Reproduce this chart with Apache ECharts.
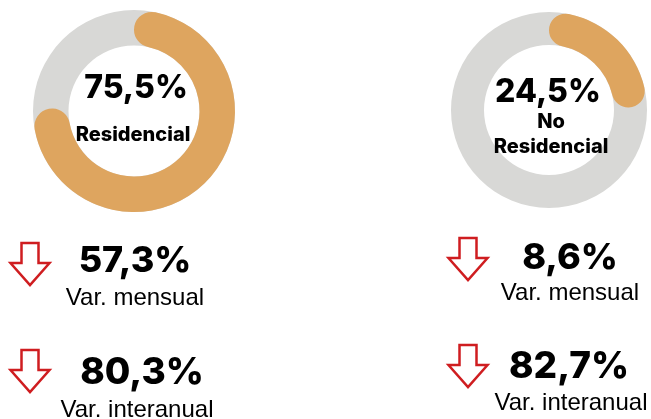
<!DOCTYPE html>
<html>
<head>
<meta charset="utf-8">
<script src="https://cdn.jsdelivr.net/npm/echarts@6/dist/echarts.min.js"></script>
<style>
  html, body { margin: 0; padding: 0; background: #fff; }
  #chart { width: 651px; height: 419px; }
</style>
</head>
<body>
<div id="chart"></div>
<script>
// share of each segment (%)
const shares = [75.5, 24.5]
const segmentLabels = ['Residencial', 'No\nResidencial']
// variations (all downwards)
const monthlyVar = [57.3, 8.6]
const yearlyVar = [80.3, 82.7]
const monthlyLabel = 'Var. mensual'
const yearlyLabel = 'Var. interanual'

const ORANGE = '#dea55f'
const GREY = '#d8d8d6'
const RED = '#cf1d20'

function fmt (v) {
  return v.toFixed(1).replace('.', ',') + '%'
}

// per-panel layout
const donuts = [
  { center: [134, 111], radius: [65.5, 101] },
  { center: [549, 110], radius: [65, 98] }
]
const panels = [
  { labelY: [88, 135], monthY: [261, 298], yearY: [373, 410], textX: [136, 133, 135, 142, 137], arrowX: 30, arrowY: [243, 350] },
  { labelY: [92, 134.5], monthY: [258, 293], yearY: [367, 403], textX: [548, 551, 570, 569, 571], arrowX: 468, arrowY: [238, 345] }
]

const series = []
shares.forEach((v, i) => {
  const d = donuts[i]
  series.push({
    type: 'pie',
    silent: true,
    z: 1,
    center: d.center,
    radius: d.radius,
    label: { show: false },
    labelLine: { show: false },
    data: [{ value: 100, itemStyle: { color: GREY } }]
  })
  series.push({
    type: 'pie',
    silent: true,
    z: 2,
    center: d.center,
    radius: d.radius,
    startAngle: 90,
    clockwise: true,
    label: { show: false },
    labelLine: { show: false },
    data: [
      { value: v, itemStyle: { color: ORANGE, borderRadius: (d.radius[1] - d.radius[0]) / 2 } },
      { value: 100 - v, itemStyle: { color: 'rgba(0,0,0,0)' } }
    ]
  })
})

const boldFont = 'Inter, "Noto Sans", sans-serif'
const plainFont = '"Liberation Sans", Arial, sans-serif'

function arrow (x, y) {
  return {
    type: 'polygon',
    x: x,
    y: y,
    z: 100,
    silent: true,
    shape: {
      points: [[-8.5, 0], [8.5, 0], [8.5, 20], [19.5, 20], [0, 42], [-19.5, 20], [-8.5, 20]]
    },
    style: { fill: '#fff', stroke: RED, lineWidth: 2.5, lineJoin: 'miter' }
  }
}

function text (str, x, y, size, weight, font, lh) {
  return {
    type: 'text',
    x: x,
    y: y,
    z: 100,
    silent: true,
    style: {
      text: str,
      fill: '#000',
      font: weight + ' ' + size + 'px ' + font,
      align: 'center',
      verticalAlign: 'middle',
      lineHeight: lh || size * 1.3
    }
  }
}

const graphics = []
shares.forEach((v, i) => {
  const p = panels[i]
  graphics.push(text(fmt(v), p.textX[0], p.labelY[0], 32, 800, boldFont))
  graphics.push(text(segmentLabels[i], p.textX[1], p.labelY[1], 20, 800, boldFont, 25))
  graphics.push(arrow(p.arrowX, p.arrowY[0]))
  graphics.push(arrow(p.arrowX, p.arrowY[1]))
  graphics.push(text(fmt(monthlyVar[i]), p.textX[2], p.monthY[0], 36, 800, boldFont))
  graphics.push(text(monthlyLabel, p.textX[2], p.monthY[1], 24, 'normal', plainFont))
  graphics.push(text(fmt(yearlyVar[i]), p.textX[3], p.yearY[0], 37, 800, boldFont))
  graphics.push(text(yearlyLabel, p.textX[4], p.yearY[1], 24, 'normal', plainFont))
})

const chart = echarts.init(document.getElementById('chart'))
chart.setOption({
  animation: false,
  backgroundColor: '#fff',
  series: series,
  graphic: graphics
})
</script>
</body>
</html>
